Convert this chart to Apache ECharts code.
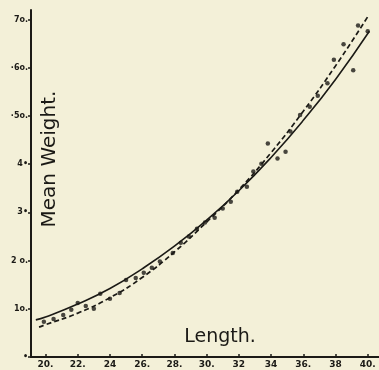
<!DOCTYPE html>
<html>
<head>
<meta charset="utf-8">
<script src="https://cdn.jsdelivr.net/npm/echarts@6/dist/echarts.min.js"></script>
<style>
html,body{margin:0;padding:0;background:#f3f0d8;}
#chart{width:379px;height:370px;}
</style>
</head>
<body>
<div id="chart"></div>
<script>
// Tick values and labels
var xTickValues = [20, 22, 24, 26, 28, 30, 32, 34, 36, 38, 40];
var xTickLabels = ["20.", "22.", "24", "26.", "28.", "30.", "32", "34", "36.", "38", "40."];
var yTickValues = [0, 10, 20, 30, 40, 50, 60, 70];
var yTickLabels = ["•", "1o.", "2 o.", "3•", "4•", "·5o.", "·6o.", "7o."];

// Solid curve (length, mean weight)
var solidLength = [19.4, 20, 22, 24, 26, 28, 30, 32, 34, 36, 38, 40.1];
var solidWeight = [7.7, 8.3, 11.0, 14.2, 18.3, 23.0, 28.4, 34.5, 41.4, 49.1, 57.6, 67.6];

// Dashed curve
var dashLength = [19.6, 20, 22, 24, 26, 28, 30, 32, 34, 36, 38, 40.0];
var dashWeight = [6.2, 6.7, 9.1, 12.3, 16.5, 21.8, 28.0, 34.7, 42.4, 51.0, 60.4, 70.6];

// Observed points
var obsLength = [19.9, 20.5, 21.1, 21.6, 22.0, 22.5, 23.0, 23.4, 24.0, 24.6, 25.0, 25.6,
  26.1, 26.6, 27.1, 27.9, 28.4, 28.9, 29.4, 29.9, 30.5, 31.0, 31.5, 31.9, 32.5, 32.9,
  33.4, 33.8, 34.4, 34.9, 35.2, 35.8, 36.4, 36.9, 37.5, 37.9, 38.5, 39.1, 39.4, 40.0];
var obsWeight = [7.3, 7.9, 8.7, 9.8, 11.2, 10.6, 10.0, 13.1, 12.1, 13.3, 16.0, 16.4,
  17.5, 18.5, 19.8, 21.6, 23.7, 25.0, 26.6, 27.9, 28.9, 30.8, 32.2, 34.3, 35.3, 38.5,
  40.1, 44.3, 41.2, 42.6, 46.8, 50.2, 51.9, 54.2, 56.8, 61.7, 64.9, 59.5, 68.8, 67.6];

function zip(a, b) { return a.map(function (v, i) { return [v, b[i]]; }); }

var ink = '#1b1a16';
var chart = echarts.init(document.getElementById('chart'), null, {renderer: 'canvas'});
chart.setOption({
  backgroundColor: '#f3f0d8',
  animation: false,
  grid: {left: 31, top: 10, right: 0, bottom: 13},
  xAxis: {
    type: 'value', min: 19.1, max: 40.7,
    axisLine: {lineStyle: {color: ink, width: 2}},
    splitLine: {show: false},
    axisTick: {customValues: xTickValues, inside: true, length: 3, lineStyle: {color: ink, width: 1.5}},
    axisLabel: {
      customValues: xTickValues,
      formatter: function (v) { var i = xTickValues.indexOf(Math.round(v)); return i >= 0 ? xTickLabels[i] : ''; },
      color: ink, fontFamily: 'DejaVu Sans', fontWeight: 'bold', fontSize: 9, margin: 3
    }
  },
  yAxis: {
    type: 'value', min: 0, max: 72,
    axisLine: {show: true, lineStyle: {color: ink, width: 2}},
    splitLine: {show: false},
    axisTick: {show: true, customValues: yTickValues, length: 3, lineStyle: {color: ink, width: 1.5}},
    axisLabel: {
      customValues: yTickValues,
      formatter: function (v) { var i = yTickValues.indexOf(Math.round(v)); return i >= 0 ? yTickLabels[i] : ''; },
      color: ink, fontFamily: 'DejaVu Sans', fontWeight: 'bold', fontSize: 8, margin: 3
    }
  },
  series: [
    {type: 'line', data: zip(solidLength, solidWeight), smooth: true, showSymbol: false,
      lineStyle: {color: ink, width: 1.6}},
    {type: 'line', data: zip(dashLength, dashWeight), smooth: true, showSymbol: false,
      lineStyle: {color: ink, width: 1.7, type: [5, 3]}},
    {type: 'scatter', data: zip(obsLength, obsWeight), symbolSize: 4.5,
      itemStyle: {color: ink}}
  ],
  graphic: [
    {type: 'text', x: 50, y: 159, rotation: Math.PI / 2,
      style: {text: 'Mean Weight.', fontFamily: 'DejaVu Sans', fontSize: 20, fill: ink,
        align: 'center', verticalAlign: 'middle'}},
    {type: 'text', x: 220, y: 337,
      style: {text: 'Length.', fontFamily: 'DejaVu Sans', fontSize: 19, fill: ink,
        align: 'center', verticalAlign: 'middle'}}
  ]
});
</script>
</body>
</html>
